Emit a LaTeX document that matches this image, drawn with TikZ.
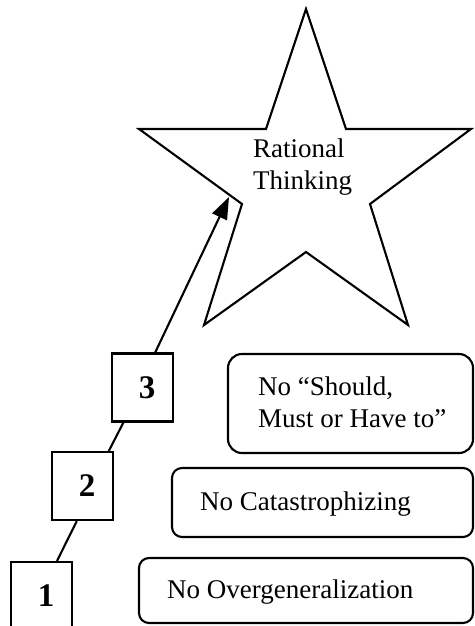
\documentclass[tikz,border=0pt]{standalone}
\usepackage{fontspec}
\setmainfont{Liberation Serif}
\usetikzlibrary{arrows.meta}
\begin{document}
\begin{tikzpicture}[x=1pt,y=-1pt,
  lw/.style={line width=2.1pt},
  numbox/.style={draw, lw, fill=white, minimum width=61pt, minimum height=68pt, inner sep=0pt, font=\fontsize{33}{33}\selectfont\bfseries},
  rbox/.style={draw, lw, rounded corners=#1, inner sep=0pt},
  rbox/.default=10pt,
  lbl/.style={inner sep=0pt, anchor=west, align=left, font=\fontsize{27}{32}\selectfont},
  link/.style={lw},
]
\useasboundingbox (0,0) rectangle (474,626);

% star
\draw[lw, line join=miter] (306,9) -- (266,129) -- (139,129) -- (242,204) -- (204,325) -- (306,252) -- (408,325) -- (370,204) -- (471,129) -- (346,129) -- cycle;
\node[lbl] (st) at (253,166.7) {Rational\\Thinking};
\coordinate (goal) at (229,197);

% numbered boxes
\node[numbox] (b1) at (41.5,596) {\hspace*{9pt}1};
\node[numbox] (b2) at (82.5,486) {\hspace*{9pt}2};
\node[numbox] (b3) at (142.5,387.5) {\hspace*{9pt}3};

% rounded boxes
\node[rbox=14pt, minimum width=245pt, minimum height=99pt] (r3) at (350.5,403.5) {};
\node[rbox=10pt, minimum width=301pt, minimum height=69pt] (r2) at (322.5,502.5) {};
\node[rbox=10pt, minimum width=334pt, minimum height=65pt] (r1) at (306,590.5) {};

\node[lbl] (t3) at (258,402) {No “Should,\\Must or Have to”};
\node[lbl] (t2) at (200,503.7) {No Catastrophizing};
\node[lbl] (t1) at (167,591.7) {No Overgeneralization};

% connectors
\draw[link] ([xshift=15.5pt]b1.north) -- ([xshift=-5.7pt]b2.south);
\draw[link] ([xshift=26.3pt]b2.north) -- ([xshift=-19.1pt]b3.south);
\draw[link, -{Triangle[length=22pt,width=16pt]}] ([xshift=12.7pt]b3.north) -- (goal);
\end{tikzpicture}
\end{document}
